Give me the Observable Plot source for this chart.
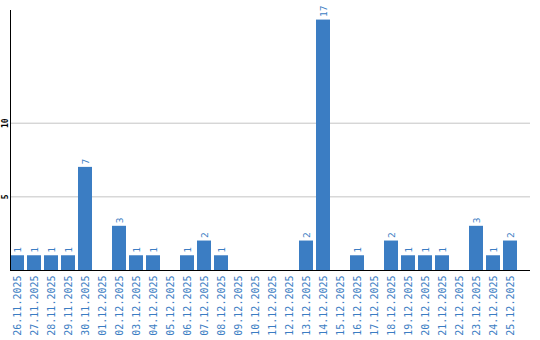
<!DOCTYPE html>
<html>
<head>
<meta charset="utf-8">
<script src="https://cdn.jsdelivr.net/npm/d3@7"></script>
<script src="https://cdn.jsdelivr.net/npm/@observablehq/plot@0.6"></script>
<style>
  html, body { margin: 0; padding: 0; background: #fff; }
  #chart svg { display: block; }
</style>
</head>
<body>
<div id="chart"></div>
<script>
const dates = [
  "26.11.2025","27.11.2025","28.11.2025","29.11.2025","30.11.2025",
  "01.12.2025","02.12.2025","03.12.2025","04.12.2025","05.12.2025",
  "06.12.2025","07.12.2025","08.12.2025","09.12.2025","10.12.2025",
  "11.12.2025","12.12.2025","13.12.2025","14.12.2025","15.12.2025",
  "16.12.2025","17.12.2025","18.12.2025","19.12.2025","20.12.2025",
  "21.12.2025","22.12.2025","23.12.2025","24.12.2025","25.12.2025"
];
const counts = [1,1,1,1,7, 0,3,1,1,0, 1,2,1,0,0, 0,0,2,17,0, 1,0,2,1,1, 1,0,3,1,2];
const yTicks = [5, 10];

const data = dates.map((d, i) => ({date: d, value: counts[i]}));
const nonZero = data.filter(d => d.value > 0);
const blue = "#3b7dc3";

const chart = Plot.plot({
  width: 540,
  height: 340,
  marginTop: 10,
  marginBottom: 70,
  marginLeft: 10,
  marginRight: 10,
  style: {fontFamily: "DejaVu Sans Mono", background: "#fff"},
  x: {domain: dates, range: [10, 520], paddingInner: 3/17, paddingOuter: 3/34, align: 0, axis: null, label: null},
  y: {domain: [0, 17.65], axis: null},
  marks: [
    Plot.gridY(yTicks, {stroke: "#c4c4c4", strokeOpacity: 1}),
    Plot.barY(data, {x: "date", y: "value", fill: blue}),
    Plot.text(nonZero, {x: "date", y: "value", text: d => String(d.value), rotate: -90, textAnchor: "start", dy: -3, fill: blue, fontSize: 9.5}),
    Plot.axisX({tickRotate: -90, tickSize: 0, tickPadding: 5, fontSize: 10, color: blue, fill: blue, label: null}),
    Plot.text(yTicks, {y: d => d, text: d => String(d), frameAnchor: "left", dx: -5, rotate: -90, textAnchor: "middle", fontSize: 8, fontWeight: "bold", fill: "#000"}),
    Plot.ruleY([0], {stroke: "#000"}),
    Plot.frame({anchor: "left", stroke: "#000"})
  ]
});
document.getElementById("chart").append(chart);
</script>
</body>
</html>
